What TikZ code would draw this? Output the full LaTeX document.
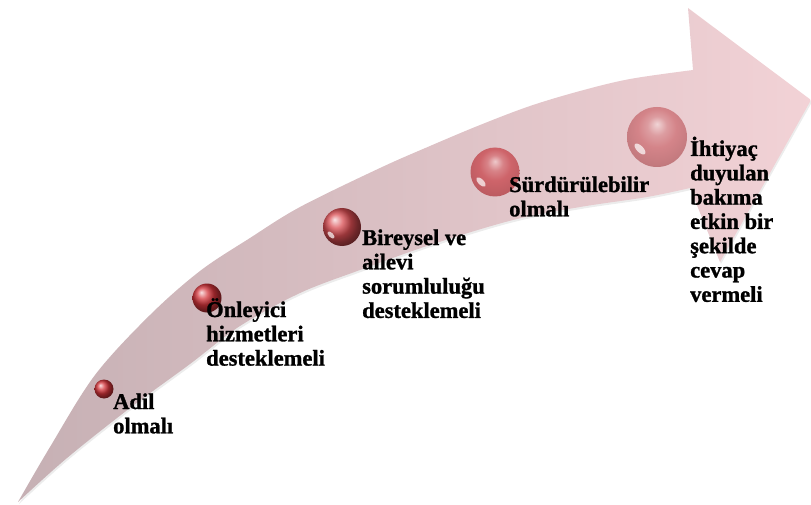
\documentclass[tikz,border=0pt]{standalone}
\usepackage{fontspec}
\setmainfont{Liberation Serif}[BoldFeatures={FakeBold=1.2}]
\usetikzlibrary{shadows}
\definecolor{tailc}{RGB}{198,176,180}
\definecolor{headc}{RGB}{242,210,214}
\definecolor{ballred}{RGB}{212,52,58}
\colorlet{pk}{red}
\pgfdeclareradialshading[pk]{glass}{\pgfqpoint{0bp}{11bp}}{%
  color(0bp)=(pk!35!white); color(8bp)=(pk!80!white); color(16bp)=(pk);
  color(28bp)=(pk!92!black); color(33bp)=(pk!82!black); color(36bp)=(pk!80!black); color(50bp)=(pk!80!black)}
\newcommand\lblines[1]{\vtop{\baselineskip=24.3pt\lineskiplimit=-20pt\halign{##\hfil\cr#1\crcr}}}
\begin{document}
\begin{tikzpicture}[x=1pt,y=-1pt,
  lbl/.style={inner sep=0pt, anchor=base west, font=\bfseries\fontsize{22.5pt}{24.3pt}\selectfont, text=black},
  sph/.style={circle, inner sep=0pt, shading=ball},
  glassball/.style={circle, inner sep=0pt, shading=glass},
  refl/.style={fill=white, opacity=0.7},
]
\useasboundingbox (0,0) rectangle (811,505);
% curved arrow band
\path[left color=tailc, right color=headc,
      drop shadow={opacity=0.15,shadow xshift=1pt,shadow yshift=-2pt}]
 (18,502) -- plot[smooth,tension=0.55] coordinates {(18,502) (50,447) (95,375) (150,315) (200,271) (250,238) (300,207) (380,168) (430,146) (480,125) (530,106) (580,91) (630,79) (693,70)}
 -- (688,8) -- (811,100) -- (720,262) -- (690,188)
 -- plot[smooth,tension=0.55] coordinates {(690,188) (647,197) (580,207) (513,220) (430,245) (360,270) (300,293) (240,326) (190,364) (130,408) (67,458) (18,502)} -- cycle;
% spheres
\node[sph, ball color=ballred, minimum size=19pt] (s1) at (104,389) {};
\node[sph, ball color=ballred, minimum size=29pt] (s2) at (207,298) {};
\node[sph, ball color=ballred!88!white, minimum size=38pt] (s3) at (342,227) {};
\colorlet{pk}{rgb,255:red,206;green,100;blue,106}
\node[glassball, minimum size=49pt] (s4) at (495,172) {};
\colorlet{pk}{rgb,255:red,212;green,132;blue,137}
\node[glassball, minimum size=60pt] (s5) at (657,137) {};
% reflections (lower-left glints)
\fill[refl, rotate around={45:(331,235)}] (331,235) ellipse (2.2 and 4.5);
\fill[refl, rotate around={45:(481,182)}] (481,182) ellipse (2.8 and 6);
\fill[refl, rotate around={45:(640,149)}] (640,149) ellipse (3.3 and 7);
% labels
\node[lbl] (t1) at (113,409) {\lblines{Adil\cr olmalı}};
\node[lbl] (t2) at (206,317) {\lblines{Önleyici\cr hizmetleri\cr desteklemeli}};
\node[lbl] (t3) at (362,245) {\lblines{Bireysel ve\cr ailevi\cr sorumluluğu\cr desteklemeli}};
\node[lbl] (t4) at (509,192) {\lblines{Sürdürülebilir\cr olmalı}};
\node[lbl] (t5) at (690,156) {\lblines{İhtiyaç\cr duyulan\cr bakıma\cr etkin bir\cr şekilde\cr cevap\cr vermeli}};
\end{tikzpicture}
\end{document}
